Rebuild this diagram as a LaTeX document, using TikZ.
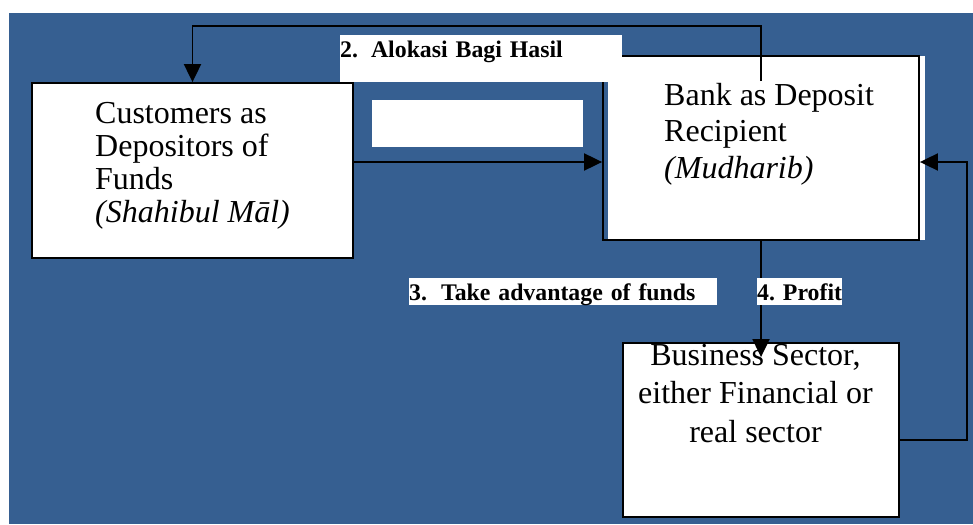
\documentclass[tikz,border=0pt]{standalone}
\usepackage{fontspec}
\setmainfont{Liberation Serif}
\usetikzlibrary{arrows.meta, calc, positioning}
\definecolor{bgblue}{RGB}{54,95,145}
\tikzset{
  stage/.style = {draw, line width=1.8pt, inner sep=0pt},
  flow/.style  = {-{Triangle[length=18pt, width=17pt]}, line width=1.9pt, black},
  tag/.style   = {fill=white, inner sep=0pt, anchor=north west, align=left,
                  text height=22pt, text depth=4.5pt,
                  font=\fontsize{23.8}{26}\selectfont\bfseries},
  body/.style  = {inner sep=0pt, font=\fontsize{32}{#1}\selectfont},
}

\begin{document}
\begin{tikzpicture}[x=1pt, y=-1pt]
  \useasboundingbox (0,0) rectangle (973,524);
  \fill[white] (0,0) rectangle (973,524);
  \fill[bgblue] (9,13) rectangle (973,524);
  % boxes
  \fill[white] (608,56) rectangle (925,240);
  \node[stage, fill=white, minimum width=321pt, minimum height=175pt] (cust) at (192.5,170.5) {};
  \node[stage, minimum width=316pt, minimum height=184pt] (bank) at (761,148) {};
  \node[stage, fill=white, minimum width=276pt, minimum height=174pt] (biz) at (761,430) {};
  \node[body=33, anchor=base west, align=left] (custtxt) at (95,222)
    {Customers as\\Depositors of\\Funds\\\textit{(Shahibul Māl)}};
  \node[body=36.5, anchor=base west, align=left] (banktxt) at (664,178)
    {Bank as Deposit\\Recipient\\\textit{(Mudharib)}};
  \node[body=38.5, anchor=base, align=center] (biztxt) at (755.5,442)
    {Business Sector,\\either Financial or\\real sector};
  % connectors
  \draw[flow] ([yshift=8.5pt]cust.east) coordinate (c1) -- (c1 -| bank.west);
  \draw[flow] ([yshift=-26pt]bank.north) -- ++(0,-55) -| (cust.north);
  \draw[flow] (bank.south) -- ([yshift=-15pt]biz.north);
  \draw[flow] ([yshift=-10pt]biz.east) -- ++(67,0) |- ([yshift=-14pt]bank.east);
  % labels
  \node[tag, minimum width=211pt, minimum height=47pt, text height=, text depth=] (lblone) at (372,100) {};
  \node[tag, text width=282pt, text depth=25pt] (lbltwo) at (340,35)
    {2.\hspace{13pt}Alokasi Bagi Hasil};
  \node[tag, text width=308pt] (lblthree) at (409,278)
    {3.\hspace{14pt}Take advantage of funds};
  \node[tag, minimum width=84pt] (lblfour) at (757,278) {4. Profit};
\end{tikzpicture}
\end{document}
